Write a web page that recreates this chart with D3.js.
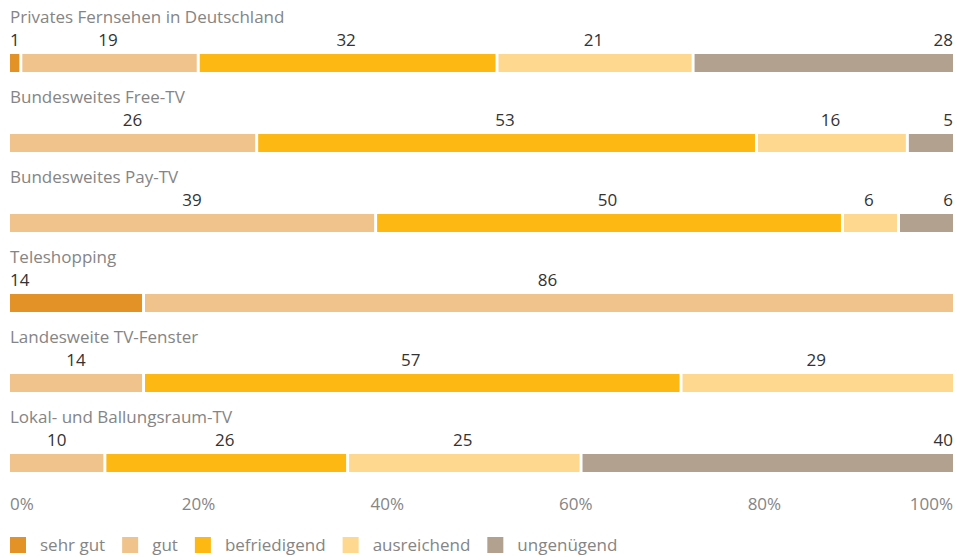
<!DOCTYPE html>
<html>
<head>
<meta charset="utf-8">
<script src="https://cdn.jsdelivr.net/npm/d3@7"></script>
<style>
  body { margin: 0; background: #fff; }
  svg text { font-family: "Open Sans", "Noto Sans", sans-serif; }
</style>
</head>
<body>
<div id="chart"></div>
<script>
const categories = ["Privates Fernsehen in Deutschland", "Bundesweites Free-TV", "Bundesweites Pay-TV",
  "Teleshopping", "Landesweite TV-Fenster", "Lokal- und Ballungsraum-TV"];
const grades = ["sehr gut", "gut", "befriedigend", "ausreichend", "ungenügend"];
const sehrGut = [1, 0, 0, 14, 0, 0];
const gut = [19, 26, 39, 86, 14, 10];
const befriedigend = [32, 53, 50, 0, 57, 26];
const ausreichend = [21, 16, 6, 0, 29, 25];
const ungenuegend = [28, 5, 6, 0, 0, 40];
const ticks = [0, 20, 40, 60, 80, 100];

const colors = ["#e39228", "#f0c28c", "#fdb813", "#fed88f", "#b3a190"];

const width = 957, height = 557;
const left = 10, right = 953;
const fs = "17px";

const svg = d3.select("#chart").append("svg")
  .attr("width", width).attr("height", height);

const series = [sehrGut, gut, befriedigend, ausreichend, ungenuegend];

const x = d3.scaleLinear().domain([0, 100]).range([left, right]);
const y = d3.scaleBand().domain(categories).range([14, 494]).paddingInner(0);

const color = d3.scaleOrdinal().domain(grades).range(colors);

categories.forEach((cat, i) => {
  const vals = series.map(s => s[i]);
  const total = d3.sum(vals);
  const top = y(cat);
  const barY = top + 40;
  const g = svg.append("g");

  g.append("text")
    .attr("x", left)
    .attr("y", top + 9)
    .style("font-size", fs)
    .style("fill", "#858585")
    .text(cat);

  let acc = 0, first = true;
  vals.forEach((v, k) => {
    if (v === 0) return;
    const x0 = x(acc / total * 100);
    const x1 = x((acc + v) / total * 100);
    acc += v;
    const gap = first ? 0 : 3;
    first = false;
    g.append("rect")
      .attr("x", x0 + gap)
      .attr("y", barY)
      .attr("width", Math.max(1, x1 - x0 - gap))
      .attr("height", 18)
      .style("fill", color(grades[k]));

    let anchor = "middle", lx = (x0 + x1) / 2;
    if (k === 0) { anchor = "start"; lx = x0; }
    if (k === grades.length - 1) { anchor = "end"; lx = x1; }
    g.append("text")
      .attr("x", lx)
      .attr("y", barY - 8)
      .attr("text-anchor", anchor)
      .style("font-size", fs)
      .style("fill", "#333")
      .text(v);
  });
});

// axis labels
svg.append("g").selectAll("text")
  .data(ticks)
  .enter()
  .append("text")
  .attr("x", d => x(d))
  .attr("y", 510)
  .attr("text-anchor", d => d === 0 ? "start" : d === 100 ? "end" : "middle")
  .style("font-size", fs)
  .style("fill", "#858585")
  .text(d => d + "%");

// legend
const legend = svg.append("g").attr("id", "legend");
let lx = left;
grades.forEach((gname, k) => {
  legend.append("rect")
    .attr("x", lx).attr("y", 537)
    .attr("width", 16).attr("height", 16)
    .style("fill", color(gname));
  const t = legend.append("text")
    .attr("x", lx + 30)
    .attr("y", 551)
    .style("font-size", fs)
    .style("fill", "#858585")
    .text(gname);
  lx = lx + 30 + t.node().getComputedTextLength() + 17;
});
</script>
</body>
</html>
